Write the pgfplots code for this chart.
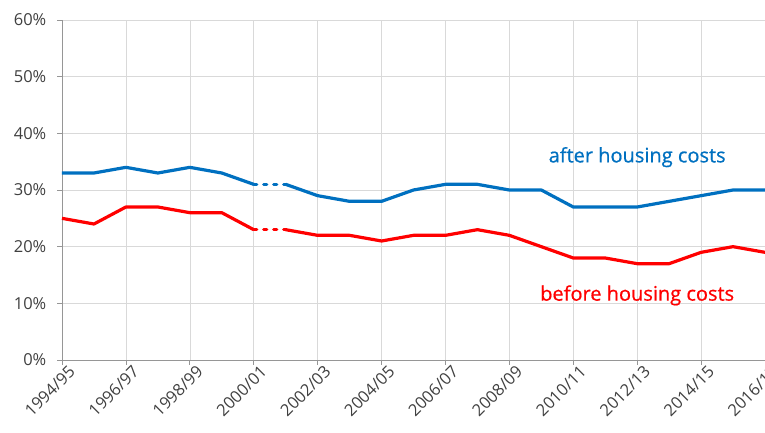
\documentclass[border=0pt]{standalone}
\usepackage{pgfplots}
\pgfplotsset{compat=1.18}
\usepackage{fontspec}
\setmainfont{Open Sans}
\newfontfamily\lblfont{Open Sans}[FakeBold=0.7]
\definecolor{ahc}{RGB}{0,112,192}
\definecolor{bhc}{RGB}{255,0,0}
\definecolor{txt}{RGB}{64,64,64}
\definecolor{gridc}{RGB}{217,217,217}
\definecolor{axc}{RGB}{150,150,150}
\begin{document}
\begin{tikzpicture}[x=1pt,y=1pt]
\begin{axis}[
  name=ax, at={(0,0)}, anchor=south west,
  scale only axis, width=703pt, height=340pt,
  xmin=0, xmax=22, ymin=0, ymax=60,
  axis lines=left, axis line style={axc, line width=0.8pt, -},
  xtick={0,2,...,22},
  xticklabels={1994/95,1996/97,1998/99,2000/01,2002/03,2004/05,2006/07,2008/09,2010/11,2012/13,2014/15,2016/17},
  ytick={0,10,...,60},
  yticklabel={\pgfmathprintnumber{\tick}\%},
  /pgf/number format/assume math mode=true,
  tick style={axc, line width=0.8pt},
  tick align=outside, major tick length=4.5pt,
  grid=major, grid style={gridc, line width=0.6pt},
  ticklabel style={font=\fontsize{16.5}{18}\selectfont, text=txt},
  x tick label style={rotate=45, anchor=north east, inner sep=1pt, xshift=5pt, yshift=-3pt},
  y tick label style={inner sep=2pt, xshift=-9pt},
  clip=false,
]
\addplot[ahc, line width=3.2pt, line join=round] coordinates {
(0,33)(1,33)(2,34)(3,33)(4,34)(5,33)(6,31)};
\addplot[ahc, line width=3.2pt, dash pattern=on 3pt off 7pt, line cap=round] coordinates {
(6,31)(7,31)};
\addplot[ahc, line width=3.2pt, line join=round] coordinates {
(7,31)(8,29)(9,28)(10,28)(11,30)(12,31)(13,31)(14,30)(15,30)(16,27)(17,27)(18,27)(19,28)(20,29)(21,30)(22,30)};
\addplot[bhc, line width=3.2pt, line join=round] coordinates {
(0,25)(1,24)(2,27)(3,27)(4,26)(5,26)(6,23)};
\addplot[bhc, line width=3.2pt, dash pattern=on 3pt off 7pt, line cap=round] coordinates {
(6,23)(7,23)};
\addplot[bhc, line width=3.2pt, line join=round] coordinates {
(7,23)(8,22)(9,22)(10,21)(11,22)(12,22)(13,23)(14,22)(15,20)(16,18)(17,18)(18,17)(19,17)(20,19)(21,20)(22,19)};
\node[text=ahc, font=\lblfont\fontsize{20}{22}\selectfont] at (axis cs:18.0,35.8) {after housing costs};
\node[text=bhc, font=\lblfont\fontsize{20}{22}\selectfont] at (axis cs:18.0,11.4) {before housing costs};
\end{axis}
\pgfresetboundingbox
\path[use as bounding box] (-62,-72) rectangle (703,360);
\end{tikzpicture}
\end{document}
